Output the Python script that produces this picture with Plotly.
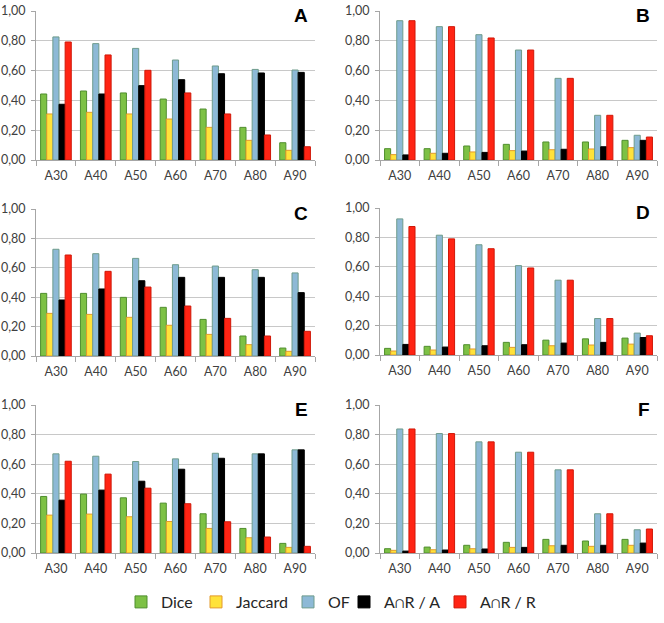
import plotly.graph_objects as go

categories = ["A30", "A40", "A50", "A60", "A70", "A80", "A90"]
series_names = ["Dice", "Jaccard", "OF", "A∩R / A", "A∩R / R"]
panel_labels = ["A", "B", "C", "D", "E", "F"]

# values per panel: Dice, Jaccard, OF, A∩R/A, A∩R/R
A_dice = [0.443, 0.463, 0.450, 0.409, 0.342, 0.219, 0.116]
A_jacc = [0.309, 0.320, 0.309, 0.275, 0.219, 0.132, 0.065]
A_of   = [0.826, 0.781, 0.749, 0.671, 0.631, 0.608, 0.604]
A_ara  = [0.374, 0.443, 0.499, 0.539, 0.579, 0.584, 0.588]
A_arr  = [0.792, 0.705, 0.602, 0.450, 0.309, 0.168, 0.089]

B_dice = [0.076, 0.076, 0.094, 0.105, 0.121, 0.121, 0.132]
B_jacc = [0.036, 0.045, 0.054, 0.063, 0.069, 0.074, 0.083]
B_of   = [0.935, 0.895, 0.841, 0.738, 0.548, 0.300, 0.166]
B_ara  = [0.034, 0.045, 0.051, 0.060, 0.072, 0.089, 0.132]
B_arr  = [0.935, 0.895, 0.819, 0.738, 0.548, 0.300, 0.154]

C_dice = [0.426, 0.426, 0.399, 0.331, 0.249, 0.136, 0.054]
C_jacc = [0.290, 0.283, 0.263, 0.209, 0.147, 0.077, 0.032]
C_of   = [0.726, 0.696, 0.664, 0.621, 0.612, 0.587, 0.565]
C_ara  = [0.381, 0.456, 0.512, 0.535, 0.535, 0.535, 0.431]
C_arr  = [0.687, 0.576, 0.469, 0.340, 0.256, 0.136, 0.168]

D_dice = [0.045, 0.059, 0.070, 0.086, 0.101, 0.110, 0.115]
D_jacc = [0.027, 0.034, 0.041, 0.052, 0.063, 0.068, 0.074]
D_of   = [0.926, 0.815, 0.750, 0.608, 0.509, 0.248, 0.149]
D_ara  = [0.072, 0.054, 0.063, 0.070, 0.081, 0.086, 0.119]
D_arr  = [0.874, 0.790, 0.723, 0.592, 0.509, 0.248, 0.131]

E_dice = [0.382, 0.398, 0.373, 0.337, 0.265, 0.166, 0.065]
E_jacc = [0.256, 0.263, 0.245, 0.213, 0.166, 0.103, 0.038]
E_of   = [0.670, 0.654, 0.618, 0.636, 0.674, 0.670, 0.697]
E_ara  = [0.357, 0.425, 0.485, 0.566, 0.640, 0.670, 0.697]
E_arr  = [0.620, 0.533, 0.438, 0.333, 0.211, 0.108, 0.045]

F_dice = [0.029, 0.040, 0.052, 0.072, 0.092, 0.081, 0.092]
F_jacc = [0.018, 0.022, 0.029, 0.038, 0.049, 0.045, 0.052]
F_of   = [0.838, 0.807, 0.751, 0.681, 0.562, 0.265, 0.157]
F_ara  = [0.013, 0.020, 0.027, 0.038, 0.052, 0.052, 0.067]
F_arr  = [0.838, 0.807, 0.751, 0.681, 0.562, 0.265, 0.162]

panels = [
    [A_dice, A_jacc, A_of, A_ara, A_arr],
    [B_dice, B_jacc, B_of, B_ara, B_arr],
    [C_dice, C_jacc, C_of, C_ara, C_arr],
    [D_dice, D_jacc, D_of, D_ara, D_arr],
    [E_dice, E_jacc, E_of, E_ara, E_arr],
    [F_dice, F_jacc, F_of, F_ara, F_arr],
]

fills = ["#7DC145", "#FFE23A", "#8DB9D6", "#000000", "#FF2414"]
lines = ["#4F8E2E", "#E39A2C", "#6E9C8C", "#000000", "#D01808"]

W, H = 664, 623
def px_x(v):
    return min(1.0, max(0.0, v / W))
def px_y(v):
    return min(1.0, max(0.0, 1 - v / H))

# window-pixel boxes (x0, x1, ytop, ybottom)
boxes = [
    (36, 315, 11, 160), (380, 657, 11, 160),
    (36, 315, 209, 356), (380, 657, 208, 355),
    (36, 315, 405, 553), (380, 657, 405, 553),
]

FONT = "Lato, Noto Sans, sans-serif"
fig = go.Figure()
layout = dict()
annotations = []

legend_names = ["legend", "legend2", "legend3", "legend4", "legend5"]
legend_x = [121, 196, 288, 344, 440]

for p, (vals, box) in enumerate(zip(panels, boxes)):
    idx = "" if p == 0 else str(p + 1)
    xa, ya = "x" + idx, "y" + idx
    for s in range(5):
        fig.add_trace(go.Bar(
            x=categories, y=vals[s], name=series_names[s],
            marker=dict(color=fills[s], line=dict(color=lines[s], width=1)),
            xaxis=xa, yaxis=ya, offsetgroup=str(s),
            showlegend=(p == 0), legend=legend_names[s],
        ))
    x0, x1, yt, yb = box
    layout["xaxis" + idx] = dict(
        domain=[px_x(x0), px_x(x1)], anchor=ya, type="category",
        showline=True, linecolor="#A6A6A6", linewidth=1,
        ticks="outside", tickson="boundaries", ticklen=5, tickcolor="#A6A6A6",
        ticklabelstandoff=4,
        tickfont=dict(family=FONT, size=12.5, color="#404040"),
        showgrid=False, fixedrange=True, automargin=False,
    )
    layout["yaxis" + idx] = dict(
        domain=[px_y(yb), px_y(yt)], anchor=xa, range=[0, 1], dtick=0.2,
        tickformat=".2f", showline=True, linecolor="#A6A6A6", linewidth=1,
        ticks="outside", ticklen=4, tickcolor="#A6A6A6",
        ticklabelstandoff=3,
        showgrid=True, gridcolor="#C8C8C8", gridwidth=1, zeroline=False,
        tickfont=dict(family=FONT, size=12.5, color="#404040"),
        fixedrange=True, automargin=False,
    )
    annotations.append(dict(
        text="<b>%s</b>" % panel_labels[p], xref=xa + " domain", yref=ya + " domain",
        x=1, y=1, xanchor="right", yanchor="top", xshift=-5, yshift=8,
        showarrow=False, bgcolor="white", borderpad=1,
        font=dict(family="Liberation Sans, Arial, sans-serif", size=19, color="#000000"),
    ))

for i, ln in enumerate(legend_names):
    layout[ln] = dict(
        x=px_x(legend_x[i]), y=px_y(602), xanchor="left", yanchor="middle",
        orientation="h", bgcolor="rgba(0,0,0,0)",
        font=dict(family=FONT, size=16, color="#262626"),
        itemwidth=30,
    )

fig.update_layout(
    **layout,
    annotations=annotations,
    barmode="group", bargap=0.23, bargroupgap=0,
    width=W, height=H, autosize=False,
    margin=dict(l=0, r=0, t=0, b=0, autoexpand=False),
    paper_bgcolor="white", plot_bgcolor="white",
    separators=", ",
    font=dict(family=FONT),
)

fig.write_html(
    "out.html",
    config={"displayModeBar": False, "staticPlot": True},
    post_script="document.body.style.margin='0px';document.documentElement.style.overflow='hidden';",
)
